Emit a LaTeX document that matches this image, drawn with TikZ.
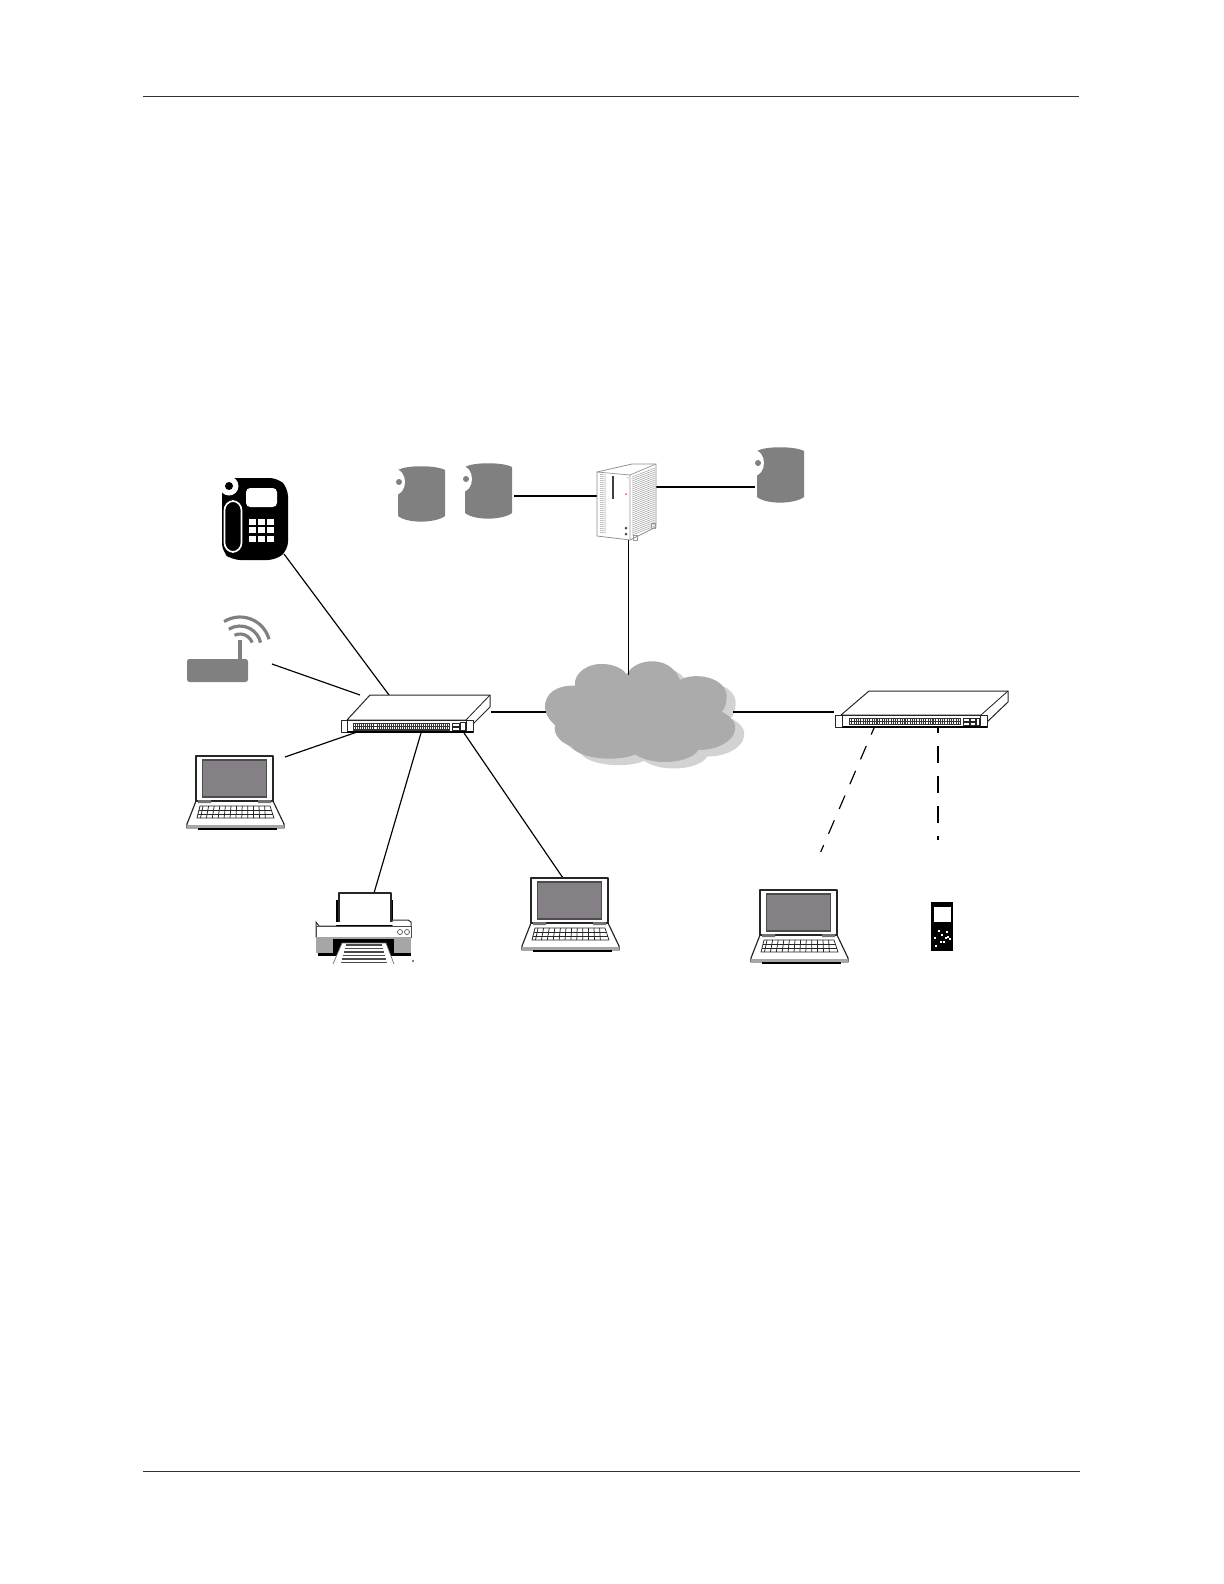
\documentclass[tikz,border=0pt]{standalone}
\usetikzlibrary{calc}
\definecolor{cang}{HTML}{808080}
\definecolor{cloudg}{HTML}{ABABAB}
\definecolor{cloudsh}{HTML}{D2D2D2}
\definecolor{screeng}{HTML}{858085}
\tikzset{
  link/.style={draw=black,line width=0.7pt},
  dashA/.style={draw=black,line width=0.7pt,dash pattern=on 8.8pt off 7.4pt,dash phase=4.5pt},
  dashB/.style={draw=black,line width=0.7pt,dash pattern=on 10.2pt off 7.8pt,dash phase=5.4pt},
  rule/.style={draw=black!80,line width=0.5pt},
  hw/.style={draw=black!85,line width=0.6pt,line join=round,fill=white},
  pics/laptop/.style={code={
    \draw[hw,line width=0.7pt] (0,45) -- (-9,68) -- (-9,72) -- (88,72) -- (88,68) -- (77,45) -- cycle;
    \fill[black!35] (-9,68.5) rectangle (88,72.5);
    \draw[black,line width=0.9pt] (2,73) -- (81,73);
    \draw[hw,line width=0.7pt] (0,0) rectangle (77,45);
    \fill[screeng] (6.5,4) rectangle (70.5,41);
    \draw[black!70,line width=0.7pt] (6.5,4) rectangle (70.5,41);
    \fill[black!55] (2,44) rectangle (15,47) (62,44) rectangle (75,47);
    \draw[black!85,line width=0.45pt] (4,50) -- (74,50) -- (78,62) -- (1,62) -- cycle;
    \draw[black!85,line width=0.45pt] (3,54) -- (75.5,54) (2,58) -- (77,58);
    \foreach \k in {0,...,11}{
      \draw[black!85,line width=0.45pt] ({7+5.6*\k},50) -- ({4.5+5.9*\k},62);
    }
  }},
  pics/can/.style={code={
    \fill[cang] (0,4) .. controls (8,-1) and (38,-1) .. (47,4) -- (47,50)
      .. controls (38,57) and (10,58) .. (0,50) -- cycle;
    \fill[white] (-3,16) ellipse [x radius=6pt,y radius=7.8pt];
    \fill[cang] (1,16) circle (3);
  }},
}
\newcommand{\cloudpath}{(290,105) .. controls (310,55) and (420,40) .. (450,120)
 .. controls (490,95) and (590,110) .. (590,170)
 .. controls (590,190) and (585,205) .. (575,215)
 .. controls (605,230) and (620,250) .. (615,270)
 .. controls (610,305) and (560,330) .. (505,330)
 .. controls (480,370) and (370,380) .. (315,343)
 .. controls (270,365) and (150,360) .. (125,320)
 .. controls (85,305) and (70,280) .. (75,255)
 .. controls (50,235) and (40,205) .. (47,185)
 .. controls (55,150) and (95,135) .. (135,137)
 .. controls (130,95) and (180,70) .. (215,72)
 .. controls (250,72) and (280,85) .. (290,105) -- cycle}
\begin{document}
\begin{tikzpicture}[x=0.6pt,y=-0.6pt]
\useasboundingbox (0,0) rectangle (1224,1584);
\fill[white] (0,0) rectangle (1224,1584);
% page rules
\coordinate (ruleTL) at (143,96); \coordinate (ruleTR) at (1079,96);
\coordinate (ruleBL) at (143,1471); \coordinate (ruleBR) at (1080,1471);
\draw[rule] (ruleTL) -- (ruleTR);
\draw[rule] (ruleBL) -- (ruleBR);

% cloud
\foreach \dx/\dy/\col in {9/6.5/cloudsh,0/0/cloudg}{
\begin{scope}[shift={(530+\dx,640+\dy)},x=0.2pt,y=-0.2pt]
\fill[\col] \cloudpath;
\end{scope}}

% connector end points
\coordinate (phoneP) at (284,554); \coordinate (swA1) at (392,699);
\coordinate (routerP) at (272,664); \coordinate (swA2) at (360,695);
\coordinate (lapLP) at (285,757); \coordinate (swA3) at (360,731);
\coordinate (printerP) at (374,893); \coordinate (swA4) at (421,733);
\coordinate (lapBP) at (563,878); \coordinate (swA5) at (464,733);
\coordinate (swA6) at (491,712); \coordinate (cloudL) at (546,712);
\coordinate (cloudR) at (733,712); \coordinate (swB1) at (834,712);
\coordinate (srvB) at (628.5,540); \coordinate (cloudT) at (628.5,675);
\coordinate (can2P) at (514,496); \coordinate (srvL) at (597,496);
\coordinate (srvR) at (656,487); \coordinate (can3P) at (755,487);
\coordinate (swB2) at (874,728); \coordinate (lapRP) at (820.7,852);
\coordinate (swB3) at (938,725); \coordinate (handP) at (938,840);

\draw[link] (phoneP) -- (swA1);
\draw[link] (routerP) -- (swA2);
\draw[link] (lapLP) -- (swA3);
\draw[link] (printerP) -- (swA4);
\draw[link] (lapBP) -- (swA5);
\draw[link] (swA6) -- (cloudL);
\draw[link] (cloudR) -- (swB1);
\draw[link] (srvB) -- (cloudT);
\draw[link] (can2P) -- (srvL);
\draw[link] (srvR) -- (can3P);
\draw[dashA] (swB2) -- (lapRP);
\draw[dashB] (swB3) -- (handP);

% cans
\pic at (398,466) {can};
\pic at (465,463) {can};
\pic at (757,447) {can};

% phone
\fill[black,rounded corners=5pt] (222,484) -- (222,552) -- (232,560) -- (276,560) -- (288,550) -- (288,488) -- (278,478) -- (228,478) -- cycle;
\fill[white] (229,486) circle (9.5);
\fill[black] (229,486) circle (4);
\fill[white,rounded corners=2.5pt] (246,488) rectangle (277,507);
\draw[white,line width=1pt,rounded corners=5.5pt] (224.5,501) rectangle (241.5,552);
\foreach \i in {0,1,2}\foreach \j in {0,1,2}{
  \fill[white] ({248.5+9*\i},{519+8.3*\j}) rectangle +(7.5,6);
}

% router
\fill[cang,rounded corners=1.5pt] (187,659) rectangle (248,682);
\fill[cang] (238,640) rectangle (242,660);
\begin{scope}[cang,line width=1.9pt]
\draw (240,647) ++(-122:30) arc[start angle=-122,end angle=-15,radius=30];
\draw (240,647) ++(-122:21) arc[start angle=-122,end angle=-12,radius=21];
\draw (240,647) ++(-115:13) arc[start angle=-115,end angle=-20,radius=13];
\end{scope}

% switch A
\draw[hw] (347,720) -- (370,695) -- (490,695) -- (490,707) -- (470,727) -- (466,720) -- cycle;
\draw[black!85,line width=0.5pt] (490,695) -- (466,720);
\draw[hw] (341,720) rectangle (473,732);
\draw[black,line width=0.9pt] (347,732) -- (473,732);
\draw[black!85,line width=0.5pt] (347,720) -- (347,732) (466,720) -- (466,732);
\fill[black!80] (353,723) rectangle (450,730.5);
\foreach \k in {0,...,47}{
  \fill[white] ({354+1.95*\k+0.7*floor(\k/12)},724.2) rectangle +(1.15,2.1);
  \fill[white] ({354+1.95*\k+0.7*floor(\k/12)},727.2) rectangle +(1.15,2.1);
}
\draw[black!85,line width=0.5pt] (452,723) rectangle (459,726.5) (452,727) rectangle (459,730) (460,722) rectangle (465,730);

% switch B
\draw[hw] (841,715) -- (869,691) -- (1008,691) -- (1008,702) -- (987,722) -- (981,715) -- cycle;
\draw[black!85,line width=0.5pt] (1008,691) -- (981,715);
\draw[hw] (835,715) rectangle (987,727);
\draw[black,line width=0.9pt] (842,727) -- (987,727);
\draw[black!85,line width=0.5pt] (842,715) -- (842,727) (980,715) -- (980,727);
\fill[black!80] (849,718) rectangle (961,725);
\foreach \k in {0,...,47}{
  \fill[white] ({850+2.25*\k+1*floor(\k/12)},719) rectangle +(1.4,2.1);
  \fill[white] ({850+2.25*\k+1*floor(\k/12)},721.9) rectangle +(1.4,2.1);
}
\draw[black!85,line width=0.5pt] (963,718.5) rectangle (969,721.5) (970,718.5) rectangle (975,721.5) (963,722.5) rectangle (969,725) (970,722.5) rectangle (975,725) (976,718) rectangle (979,725);

% server
\draw[black!45,line width=0.45pt,fill=white] (597,472) -- (632,464) -- (656,464) -- (656,527) -- (630,540) -- (597,536) -- cycle;
\draw[black!40,line width=0.45pt] (597,472) -- (630,475) -- (656,464) (630,475) -- (630,540);
\foreach \k in {0,...,29}{
  \draw[black!35,line width=0.35pt] (632,{477+2*\k}) -- (655,{468+2*\k});
  \draw[black!35,line width=0.35pt] (600,{474.5+2*\k}) -- (606,{475+2*\k});
}
\draw[black!75,line width=1pt] (613,476) -- (613,499);
\fill[red!70!white] (626,494) circle (1);
\fill[green!50!black!60] (628,478) circle (0.7);
\fill[black!70] (626,528) circle (1.5) (626,534) circle (1.5);
\draw[black!40,line width=0.4pt] (633,535) rectangle (637,540) (651,523) rectangle (655,528);

% printer
\fill[black] (336,900) rectangle (393,926);
\draw[hw,line width=0.8pt] (339,893) rectangle (391,924);
\draw[black!80,line width=0.6pt,fill=white] (339,926) -- (319,926) -- (316,922) -- (316,937) -- (411,937) -- (411,922) -- (408,920) -- (392,920) -- (392,926);
\draw[black!70,line width=0.5pt,fill=white] (316,926) rectangle (411,937);
\fill[white] (336,922) rectangle (393,925);
\draw[black,line width=0.8pt] (337,925.5) -- (392,925.5);
\fill[black!35] (316,937) rectangle (411,953);
\fill[black] (318,953) rectangle (411,955.5);
\fill[black] (333,939) rectangle (394,955);
\draw[black!70,line width=0.4pt] (400,932) circle (2.5) (407,932) circle (2.5);
\draw[fill=white,draw=black!60,line width=0.4pt] (333,964) -- (342,943) -- (386,943) -- (394,964);
\foreach \y/\a/\b in {945/346/382,948.5/345/383,952/344/384,955.5/343/385,959/342/386,962.5/341/387}{
  \draw[black!70,line width=0.8pt] (\a,\y) -- (\b,\y);
}
\fill[black] (413,961) circle (0.9);

% laptops
\pic at (196,756) {laptop};
\pic at (531,878) {laptop};
\pic at (760,890) {laptop};

% handheld
\fill[black] (931,902) rectangle (953,951);
\fill[white] (934,907) rectangle (951,922);
\foreach \x/\y in {938/930,941/934,946/931,945/937,934/937,940/941,949/938,935/945,943/941,947/936}{
  \fill[white] (\x,\y) rectangle +(1.8,1.8);
}
\end{tikzpicture}
\end{document}
